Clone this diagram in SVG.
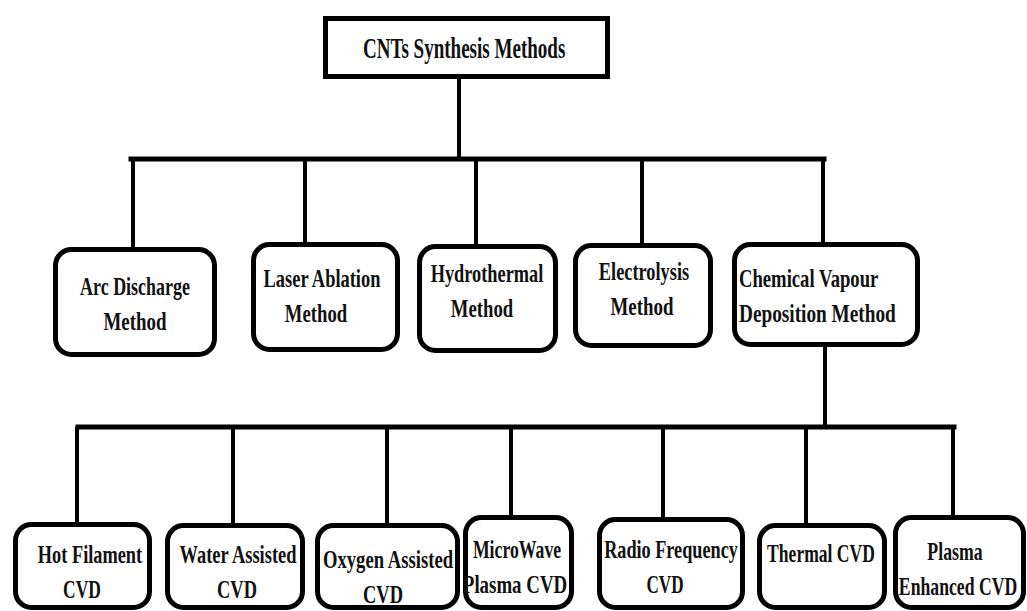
<svg xmlns="http://www.w3.org/2000/svg" width="1027" height="611" viewBox="0 0 1027 611">
<style>
.box{fill:#fff;stroke:#000;stroke-width:5}
.wire{stroke:#000;stroke-width:4;fill:none}
.bar{stroke:#000;stroke-width:5;fill:none;stroke-linecap:square}
text{font-family:"Liberation Serif","Times New Roman",serif;font-weight:bold;font-size:26px;fill:#111;text-anchor:middle}
.title{font-size:29px;text-anchor:start}
.left{text-anchor:start}
</style>
<rect width="1027" height="611" fill="#fff"/>
<g id="connectors">
<line class="wire" x1="459" y1="79" x2="459" y2="159"/>
<line class="bar" x1="131" y1="159" x2="824" y2="159"/>
<line class="wire" x1="133" y1="159" x2="133" y2="249"/>
<line class="wire" x1="305" y1="159" x2="305" y2="244"/>
<line class="wire" x1="476" y1="159" x2="476" y2="246"/>
<line class="wire" x1="642" y1="159" x2="642" y2="245"/>
<line class="wire" x1="823" y1="159" x2="823" y2="244"/>
<line class="wire" x1="825" y1="347" x2="825" y2="427"/>
<line class="bar" x1="78" y1="427" x2="954" y2="427"/>
<line class="wire" x1="77" y1="427" x2="77" y2="524"/>
<line class="wire" x1="233" y1="427" x2="233" y2="525"/>
<line class="wire" x1="387" y1="427" x2="387" y2="525"/>
<line class="wire" x1="511" y1="427" x2="511" y2="517"/>
<line class="wire" x1="663" y1="427" x2="663" y2="519"/>
<line class="wire" x1="806" y1="427" x2="806" y2="525"/>
<line class="wire" x1="953" y1="427" x2="953" y2="517"/>
</g>
<g id="root">
<rect class="box" x="325.5" y="18.5" width="282" height="58"/>
<text class="title" transform="translate(363,58) scale(0.7,1)" textLength="289" lengthAdjust="spacingAndGlyphs">CNTs Synthesis Methods</text>
</g>
<g id="arc">
<rect class="box" x="55.5" y="249.5" width="159" height="105" rx="16"/>
<text transform="translate(135,295) scale(0.7,1)" textLength="157" lengthAdjust="spacingAndGlyphs">Arc Discharge</text>
<text transform="translate(135,330) scale(0.7,1)" textLength="90" lengthAdjust="spacingAndGlyphs">Method</text>
</g>
<g id="laser">
<rect class="box" x="253.5" y="244.5" width="144" height="105" rx="16"/>
<text transform="translate(322,287) scale(0.7,1)" textLength="167" lengthAdjust="spacingAndGlyphs">Laser Ablation</text>
<text transform="translate(316,322) scale(0.7,1)" textLength="89" lengthAdjust="spacingAndGlyphs">Method</text>
</g>
<g id="hydro">
<rect class="box" x="419.5" y="246.5" width="136" height="104" rx="16"/>
<text transform="translate(487,282) scale(0.7,1)" textLength="161" lengthAdjust="spacingAndGlyphs">Hydrothermal</text>
<text transform="translate(482,317) scale(0.7,1)" textLength="89" lengthAdjust="spacingAndGlyphs">Method</text>
</g>
<g id="electro">
<rect class="box" x="575.5" y="245.5" width="135" height="100" rx="16"/>
<text transform="translate(644,280) scale(0.7,1)" textLength="129" lengthAdjust="spacingAndGlyphs">Electrolysis</text>
<text transform="translate(642,315) scale(0.7,1)" textLength="90" lengthAdjust="spacingAndGlyphs">Method</text>
</g>
<g id="cvd">
<rect class="box" x="734.5" y="244.5" width="183" height="100" rx="16"/>
<text class="left" transform="translate(739,287) scale(0.7,1)" textLength="199" lengthAdjust="spacingAndGlyphs">Chemical Vapour</text>
<text class="left" transform="translate(739,322) scale(0.7,1)" textLength="224" lengthAdjust="spacingAndGlyphs">Deposition Method</text>
</g>
<g id="hot">
<rect class="box" x="15.5" y="524.5" width="134" height="83" rx="16"/>
<text transform="translate(90,563) scale(0.7,1)" textLength="149" lengthAdjust="spacingAndGlyphs">Hot Filament</text>
<text transform="translate(82,598) scale(0.7,1)" textLength="54" lengthAdjust="spacingAndGlyphs">CVD</text>
</g>
<g id="water">
<rect class="box" x="167.5" y="525.5" width="135" height="82" rx="16"/>
<text transform="translate(238,563) scale(0.7,1)" textLength="167" lengthAdjust="spacingAndGlyphs">Water Assisted</text>
<text transform="translate(237,598) scale(0.7,1)" textLength="57" lengthAdjust="spacingAndGlyphs">CVD</text>
</g>
<g id="oxygen">
<rect class="box" x="317.5" y="525.5" width="140" height="82" rx="16"/>
<text transform="translate(388,568) scale(0.7,1)" textLength="186" lengthAdjust="spacingAndGlyphs">Oxygen Assisted</text>
<text transform="translate(383,603) scale(0.7,1)" textLength="57" lengthAdjust="spacingAndGlyphs">CVD</text>
</g>
<g id="microwave">
<rect class="box" x="465.5" y="517.5" width="106" height="90" rx="16"/>
<text transform="translate(517,558) scale(0.7,1)" textLength="126" lengthAdjust="spacingAndGlyphs">MicroWave</text>
<text transform="translate(515,593) scale(0.7,1)" textLength="149" lengthAdjust="spacingAndGlyphs">Plasma CVD</text>
</g>
<g id="radio">
<rect class="box" x="599.5" y="519.5" width="143" height="88" rx="16"/>
<text transform="translate(671,558) scale(0.7,1)" textLength="191" lengthAdjust="spacingAndGlyphs">Radio Frequency</text>
<text transform="translate(665,593) scale(0.7,1)" textLength="53" lengthAdjust="spacingAndGlyphs">CVD</text>
</g>
<g id="thermal">
<rect class="box" x="759.5" y="525.5" width="125" height="82" rx="16"/>
<text transform="translate(821,562) scale(0.7,1)" textLength="154" lengthAdjust="spacingAndGlyphs">Thermal CVD</text>
</g>
<g id="plasma">
<rect class="box" x="895.5" y="517.5" width="128" height="90" rx="16"/>
<text transform="translate(955,560) scale(0.7,1)" textLength="79" lengthAdjust="spacingAndGlyphs">Plasma</text>
<text transform="translate(958,595) scale(0.7,1)" textLength="169" lengthAdjust="spacingAndGlyphs">Enhanced CVD</text>
</g>
</svg>
